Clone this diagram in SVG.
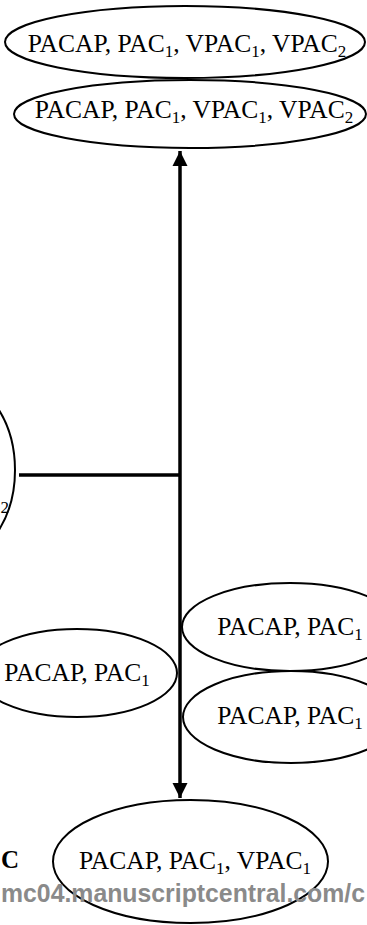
<svg xmlns="http://www.w3.org/2000/svg" width="367" height="925" viewBox="0 0 367 925">
<defs>
<style>
.node{fill:#fff;stroke:#000;stroke-width:2}
.lbl{font-family:"Liberation Serif","Times New Roman",serif;font-size:25.5px;fill:#000;text-anchor:middle}
.sub{font-size:17px}
.edge{stroke:#000;stroke-width:3.5;fill:none}
.wm{font-family:"Liberation Sans",Arial,sans-serif;font-weight:bold;font-size:25px;fill:#8a8a8a}
.panel{font-family:"Liberation Serif","Times New Roman",serif;font-weight:bold;font-size:25px;fill:#000}
</style>
<marker id="ah" viewBox="0 0 10 10" refX="10" refY="5" markerWidth="4.4" markerHeight="4.4" markerUnits="strokeWidth" orient="auto-start-reverse">
<path d="M0,0 L10,5 L0,10 z" fill="#000"/>
</marker>
</defs>
<rect width="367" height="925" fill="#fff"/>
<g id="edges">
<line class="edge" x1="180" y1="151" x2="180" y2="798" marker-start="url(#ah)" marker-end="url(#ah)"/>
<line class="edge" x1="19" y1="475" x2="180" y2="475"/>
</g>
<g id="n1">
<ellipse class="node" cx="185" cy="42" rx="180" ry="36"/>
<text class="lbl" x="187" y="52">PACAP, PAC<tspan class="sub" dy="5">1</tspan><tspan dy="-5">, VPAC</tspan><tspan class="sub" dy="5">1</tspan><tspan dy="-5">, VPAC</tspan><tspan class="sub" dy="5">2</tspan></text>
</g>
<g id="n2">
<ellipse class="node" cx="190" cy="114" rx="176" ry="34"/>
<text class="lbl" x="194" y="118">PACAP, PAC<tspan class="sub" dy="5">1</tspan><tspan dy="-5">, VPAC</tspan><tspan class="sub" dy="5">1</tspan><tspan dy="-5">, VPAC</tspan><tspan class="sub" dy="5">2</tspan></text>
</g>
<g id="n3">
<ellipse class="node" cx="-55" cy="470" rx="70" ry="94"/>
<text class="lbl sub" x="9" y="513" style="text-anchor:end">2</text>
</g>
<g id="n4">
<ellipse class="node" cx="77" cy="673" rx="100" ry="44"/>
<text class="lbl" x="77" y="681">PACAP, PAC<tspan class="sub" dy="5">1</tspan></text>
</g>
<g id="n5">
<ellipse class="node" cx="290" cy="627" rx="108" ry="44"/>
<text class="lbl" x="290" y="635">PACAP, PAC<tspan class="sub" dy="5">1</tspan></text>
</g>
<g id="n6">
<ellipse class="node" cx="291" cy="717" rx="108" ry="46"/>
<text class="lbl" x="290" y="724">PACAP, PAC<tspan class="sub" dy="5">1</tspan></text>
</g>
<g id="n7">
<ellipse class="node" cx="190.5" cy="861.5" rx="137.5" ry="61.5"/>
<text class="lbl" x="195" y="869">PACAP, PAC<tspan class="sub" dy="5">1</tspan><tspan dy="-5">, VPAC</tspan><tspan class="sub" dy="5">1</tspan></text>
</g>
<text class="panel" x="1" y="868">C</text>
<text class="wm" x="1" y="902" textLength="364" lengthAdjust="spacingAndGlyphs">mc04.manuscriptcentral.com/c</text>
</svg>
